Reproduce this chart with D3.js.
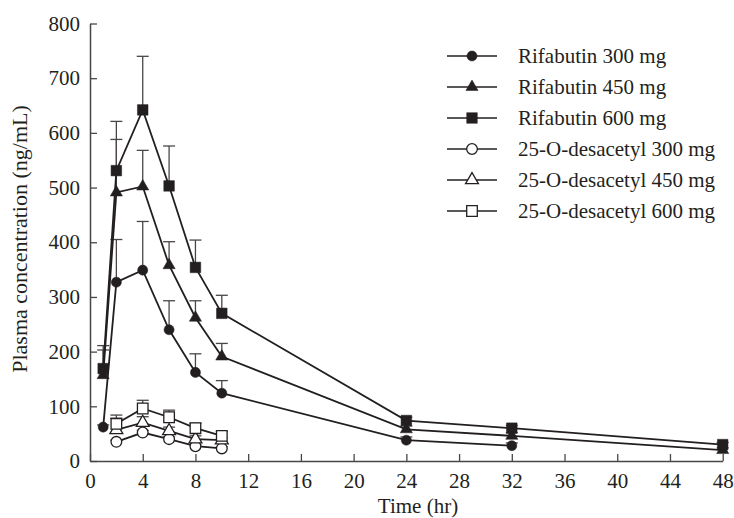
<!DOCTYPE html>
<html>
<head>
<meta charset="utf-8">
<script src="https://cdn.jsdelivr.net/npm/d3@7"></script>
<style>
  body { margin: 0; background: #fff; }
  svg text { font-family: "Liberation Serif", "Times New Roman", serif; fill: #231f20; }
</style>
</head>
<body>
<div class="chart"></div>
<script>
// sampling times (hr)
var times = [1, 2, 4, 6, 8, 10, 24, 32, 48];
var desTimes = [2, 4, 6, 8, 10];

// mean concentrations (ng/mL), null = not plotted
var rif300 = [62, 327, 349, 240, 162, 124, 38, 28, null];
var rif450 = [157, 491, 502, 358, 262, 191, 58, 46, 20];
var rif600 = [169, 531, 642, 503, 354, 270, 74, 60, 30];
// upper end of the error bars
var rif300Up = [66, 405, 438, 293, 196, 147, 44, 33, null];
var rif450Up = [203, 588, 568, 401, 293, 215, 64, 52, 24];
var rif600Up = [211, 621, 740, 576, 404, 303, 80, 65, 34];

var des300 = [35, 52, 40, 27, 23];
var des450 = [57, 70, 55, 40, 38];
var des600 = [68, 96, 80, 60, 46];
var des300Up = [38, 56, 44, 30, 26];
var des450Up = [78, 81, 62, 46, 42];
var des600Up = [84, 111, 93, 69, 54];

var xTicks = [0, 4, 8, 12, 16, 20, 24, 28, 32, 36, 40, 44, 48];
var yTicks = [0, 100, 200, 300, 400, 500, 600, 700, 800];

var series = [
  {name: "Rifabutin 300 mg", t: times, v: rif300, up: rif300Up, shape: d3.symbolCircle, size: 80, open: false},
  {name: "Rifabutin 450 mg", t: times, v: rif450, up: rif450Up, shape: d3.symbolTriangle, size: 64, open: false},
  {name: "Rifabutin 600 mg", t: times, v: rif600, up: rif600Up, shape: d3.symbolSquare, size: 112, open: false},
  {name: "25-O-desacetyl 300 mg", t: desTimes, v: des300, up: des300Up, shape: d3.symbolCircle, size: 90, open: true},
  {name: "25-O-desacetyl 450 mg", t: desTimes, v: des450, up: des450Up, shape: d3.symbolTriangle, size: 72, open: true},
  {name: "25-O-desacetyl 600 mg", t: desTimes, v: des600, up: des600Up, shape: d3.symbolSquare, size: 112, open: true}
];

var svgWidth = 734, svgHeight = 518;
var ink = "#231f20", axisInk = "#4a4647";

var svg = d3.select(".chart").append("svg")
  .attr("width", svgWidth)
  .attr("height", svgHeight);

var x = d3.scaleLinear().domain([0, 48]).range([90, 722.7]);
var y = d3.scaleLinear().domain([0, 800]).range([461, 23.5]);

// axes, ticks point inward
var xAxis = svg.append("g")
  .attr("transform", "translate(0," + y(0) + ")")
  .call(d3.axisBottom(x).tickValues(xTicks).tickSizeInner(-7).tickSizeOuter(0).tickPadding(12));
var yAxis = svg.append("g")
  .attr("transform", "translate(" + x(0) + ",0)")
  .call(d3.axisLeft(y).tickValues(yTicks).tickSizeInner(-7).tickSizeOuter(0).tickPadding(10));

[xAxis, yAxis].forEach(function (g) {
  g.select(".domain").attr("stroke", axisInk).attr("stroke-width", 1.5);
  g.selectAll(".tick line").attr("stroke", axisInk).attr("stroke-width", 1.3);
  g.selectAll(".tick text").attr("font-size", 21).attr("font-family", null).attr("fill", ink);
});

// axis titles
svg.append("text")
  .attr("x", 418).attr("y", 513)
  .attr("text-anchor", "middle")
  .attr("font-size", 21)
  .text("Time (hr)");

svg.append("text")
  .attr("transform", "translate(27,239) rotate(-90)")
  .attr("text-anchor", "middle")
  .attr("font-size", 22)
  .text("Plasma concentration (ng/mL)");

// error bars (upper only)
var capW = 6;
series.forEach(function (s) {
  var pts = s.t.map(function (t, i) { return {t: t, v: s.v[i], up: s.up[i]}; })
    .filter(function (d) { return d.v != null && d.up != null; });
  var g = svg.append("g").attr("stroke", axisInk).attr("stroke-width", 1.3);
  g.selectAll("line.bar").data(pts).enter().append("line")
    .attr("x1", function (d) { return x(d.t); })
    .attr("x2", function (d) { return x(d.t); })
    .attr("y1", function (d) { return y(d.v); })
    .attr("y2", function (d) { return y(d.up); });
  g.selectAll("line.cap").data(pts).enter().append("line")
    .attr("x1", function (d) { return x(d.t) - capW; })
    .attr("x2", function (d) { return x(d.t) + capW; })
    .attr("y1", function (d) { return y(d.up); })
    .attr("y2", function (d) { return y(d.up); });
});

// lines
var line = d3.line()
  .defined(function (d) { return d.v != null; })
  .x(function (d) { return x(d.t); })
  .y(function (d) { return y(d.v); });

series.forEach(function (s) {
  var pts = s.t.map(function (t, i) { return {t: t, v: s.v[i]}; });
  svg.append("path")
    .attr("d", line(pts))
    .attr("fill", "none")
    .attr("stroke", ink)
    .attr("stroke-width", 1.8);
});

// markers
series.forEach(function (s) {
  var pts = s.t.map(function (t, i) { return {t: t, v: s.v[i]}; })
    .filter(function (d) { return d.v != null; });
  svg.append("g").selectAll("path").data(pts).enter().append("path")
    .attr("transform", function (d) { return "translate(" + x(d.t) + "," + y(d.v) + ")"; })
    .attr("d", d3.symbol().type(s.shape).size(s.size))
    .attr("fill", s.open ? "#fff" : ink)
    .attr("stroke", ink)
    .attr("stroke-width", s.open ? 1.3 : 0.5);
});

// legend
var legend = svg.append("g").attr("transform", "translate(447,56)");
var rows = legend.selectAll("g").data(series).enter().append("g")
  .attr("transform", function (d, i) { return "translate(0," + (i * 31) + ")"; });
rows.append("line")
  .attr("x1", 0).attr("x2", 50)
  .attr("stroke", ink).attr("stroke-width", 1.5);
rows.append("path")
  .attr("transform", "translate(25,0)")
  .attr("d", function (d) { return d3.symbol().type(d.shape).size(d.size)(); })
  .attr("fill", function (d) { return d.open ? "#fff" : ink; })
  .attr("stroke", ink)
  .attr("stroke-width", function (d) { return d.open ? 1.3 : 0.5; });
rows.append("text")
  .attr("x", 71).attr("y", 7)
  .attr("font-size", 21)
  .text(function (d) { return d.name; });
</script>
</body>
</html>
